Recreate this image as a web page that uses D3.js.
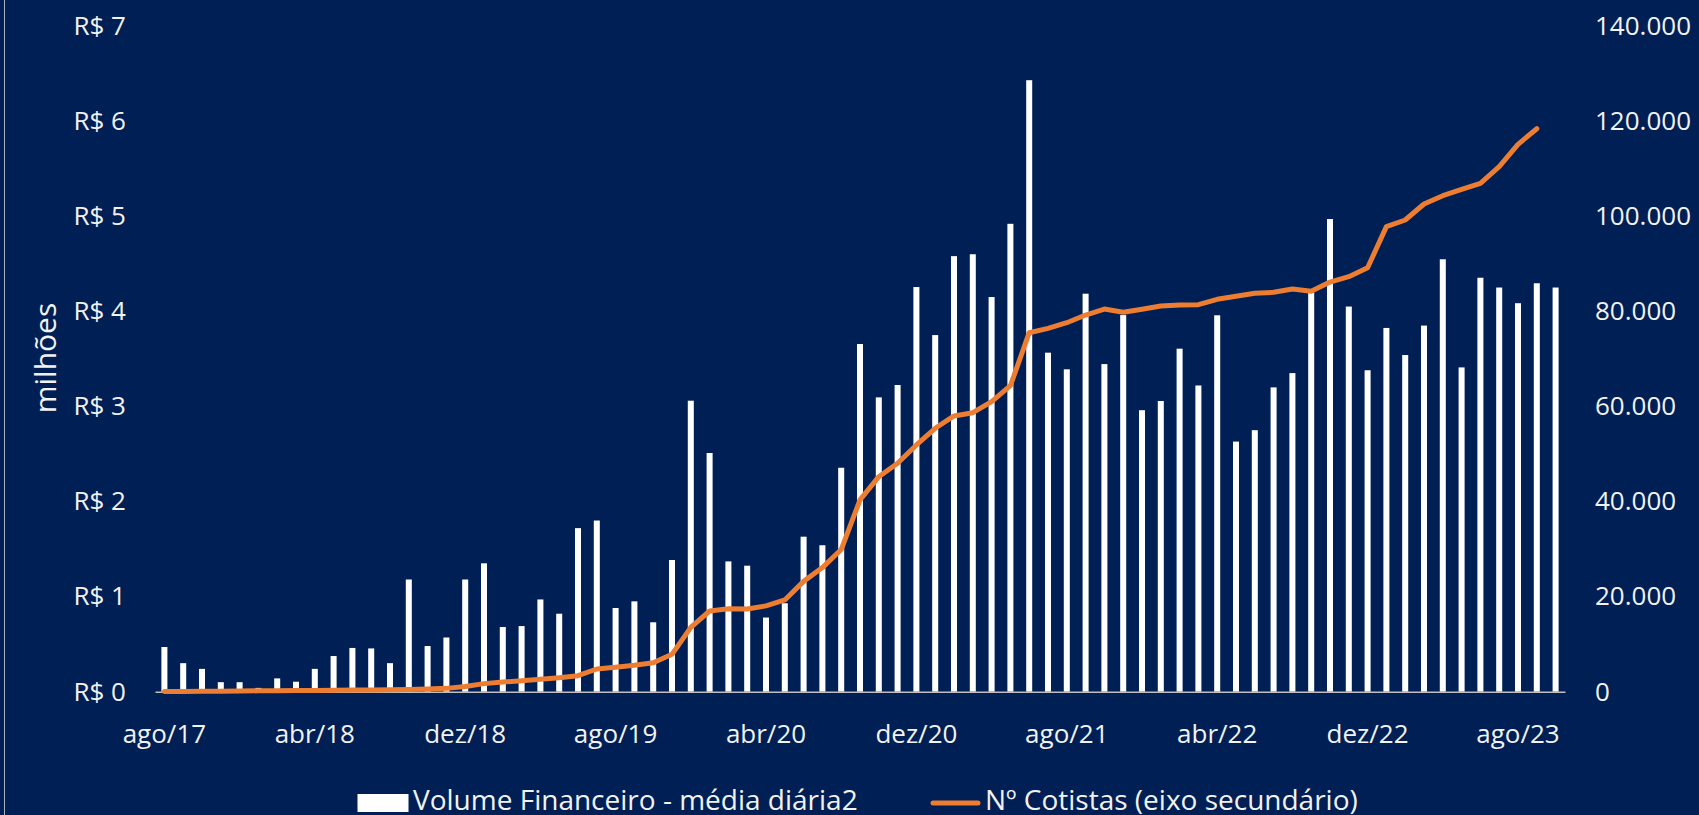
<!DOCTYPE html>
<html lang="pt-BR">
<head>
<meta charset="utf-8">
<title>Volume Financeiro x Nº Cotistas</title>
<script src="https://cdn.jsdelivr.net/npm/d3@7"></script>
<style>
    html, body { margin: 0; padding: 0; background: #001f54; }
    svg { display: block; font-family: "Open Sans", "Noto Sans", sans-serif; }
    .tick text { fill: #f2f2f2; }
</style>
</head>
<body>
<div id="chart"></div>
<script>
// Monthly categories (ago/17 .. out/23)
const categories = [
    'ago/17', 'set/17', 'out/17', 'nov/17', 'dez/17',
    'jan/18', 'fev/18', 'mar/18', 'abr/18', 'mai/18', 'jun/18', 'jul/18', 'ago/18', 'set/18', 'out/18', 'nov/18', 'dez/18',
    'jan/19', 'fev/19', 'mar/19', 'abr/19', 'mai/19', 'jun/19', 'jul/19', 'ago/19', 'set/19', 'out/19', 'nov/19', 'dez/19',
    'jan/20', 'fev/20', 'mar/20', 'abr/20', 'mai/20', 'jun/20', 'jul/20', 'ago/20', 'set/20', 'out/20', 'nov/20', 'dez/20',
    'jan/21', 'fev/21', 'mar/21', 'abr/21', 'mai/21', 'jun/21', 'jul/21', 'ago/21', 'set/21', 'out/21', 'nov/21', 'dez/21',
    'jan/22', 'fev/22', 'mar/22', 'abr/22', 'mai/22', 'jun/22', 'jul/22', 'ago/22', 'set/22', 'out/22', 'nov/22', 'dez/22',
    'jan/23', 'fev/23', 'mar/23', 'abr/23', 'mai/23', 'jun/23', 'jul/23', 'ago/23', 'set/23', 'out/23'
];

// Volume Financeiro - média diária (R$ milhões)
const volume = [
    0.47, 0.30, 0.24, 0.10, 0.10,
    0.04, 0.14, 0.105, 0.24, 0.375, 0.46, 0.455, 0.30, 1.18, 0.48, 0.57, 1.18,
    1.35, 0.68, 0.69, 0.97, 0.82, 1.72, 1.80, 0.88, 0.95, 0.73, 1.385, 3.06,
    2.51, 1.37, 1.325, 0.78, 0.93, 1.63, 1.54, 2.355, 3.656, 3.095, 3.225, 4.255,
    3.75, 4.58, 4.60, 4.15, 4.92, 6.43, 3.565, 3.39, 4.185, 3.445, 3.96, 2.96,
    3.057, 3.607, 3.22, 3.958, 2.63, 2.75, 3.20, 3.35, 4.20, 4.97, 4.05, 3.38,
    3.825, 3.54, 3.85, 4.547, 3.41, 4.353, 4.25, 4.085, 4.295, 4.25
];

// Nº Cotistas (eixo secundário) - ends at set/23
const cotistas = [
    30, 60, 90, 120, 150,
    180, 210, 240, 270, 300, 340, 380, 420, 470, 560, 700, 1100,
    1700, 2040, 2310, 2600, 2950, 3365, 4770, 5130, 5550, 6100, 7860, 13540,
    16970, 17460, 17380, 18050, 19300, 23200, 26100, 29900, 40330, 45220, 48040, 51890,
    55400, 57990, 58680, 60990, 64350, 75500, 76420, 77600, 79220, 80480, 79790, 80420,
    81110, 81320, 81390, 82520, 83150, 83780, 83990, 84680, 84200, 86150, 87280, 89150,
    97800, 99200, 102560, 104310, 105650, 106920, 110410, 115120, 118400
];

const leftTicks = [0, 1, 2, 3, 4, 5, 6, 7];
const rightTicks = [0, 20000, 40000, 60000, 80000, 100000, 120000, 140000];
const xTickLabels = ['ago/17', 'abr/18', 'dez/18', 'ago/19', 'abr/20', 'dez/20', 'ago/21', 'abr/22', 'dez/22', 'ago/23'];
const legendLabels = ['Volume Financeiro - média diária2', 'Nº Cotistas (eixo secundário)'];

const config = {
    width: 1699,
    height: 815,
    plotLeft: 155,
    plotRight: 1565,
    plotTop: 26,
    plotBottom: 691.7,
    background: '#001f54',
    barColor: '#ffffff',
    lineColor: '#ed7d31',
    textColor: '#f2f2f2',
    axisColor: '#bfbfbf',
    fontSize: 26,
    legendFontSize: 28
};

const ptBR = d3.formatLocale({ decimal: ',', thousands: '.', grouping: [3], currency: ['R$ ', ''] });
const fmtThousands = ptBR.format(',');

function renderChart(container) {
    const svg = d3.select(container).append('svg')
        .attr('width', config.width)
        .attr('height', config.height)
        .attr('viewBox', `0 0 ${config.width} ${config.height}`);

    svg.append('rect')
        .attr('width', config.width)
        .attr('height', config.height)
        .attr('fill', config.background);

    // thin frame line on the left edge
    svg.append('line')
        .attr('x1', 4.5).attr('x2', 4.5)
        .attr('y1', 0).attr('y2', config.height)
        .attr('stroke', '#a9b0c0').attr('stroke-width', 1);

    // Scales
    const x = d3.scaleBand()
        .domain(categories)
        .range([config.plotLeft, config.plotRight])
        .paddingInner(0.68)
        .paddingOuter(0.34);

    const yLeft = d3.scaleLinear().domain([0, 7]).range([config.plotBottom, config.plotTop]);
    const yRight = d3.scaleLinear().domain([0, 140000]).range([config.plotBottom, config.plotTop]);

    // Bars
    svg.append('g').attr('class', 'bars')
        .selectAll('rect')
        .data(volume)
        .join('rect')
        .attr('x', (d, i) => x(categories[i]))
        .attr('y', d => yLeft(d))
        .attr('width', x.bandwidth())
        .attr('height', d => config.plotBottom - yLeft(d))
        .attr('fill', config.barColor);

    // Left axis
    const leftAxis = svg.append('g')
        .attr('transform', `translate(${config.plotLeft},0)`)
        .call(d3.axisLeft(yLeft).tickValues(leftTicks).tickSize(0).tickPadding(29).tickFormat(d => 'R$ ' + d));
    leftAxis.select('.domain').remove();

    // Right axis
    const rightAxis = svg.append('g')
        .attr('transform', `translate(${config.plotRight},0)`)
        .call(d3.axisRight(yRight).tickValues(rightTicks).tickSize(0).tickPadding(30).tickFormat(fmtThousands));
    rightAxis.select('.domain').remove();

    // Bottom axis
    const bottomAxis = svg.append('g')
        .attr('transform', `translate(0,${config.plotBottom})`)
        .call(d3.axisBottom(x).tickValues(xTickLabels).tickSize(0).tickPadding(33));
    bottomAxis.select('.domain')
        .attr('stroke', config.axisColor)
        .attr('stroke-width', 1.5);

    svg.selectAll('.tick text')
        .attr('font-size', config.fontSize)
        .attr('font-family', '"Open Sans", sans-serif')
        .attr('fill', config.textColor);

    // Line (secondary axis)
    const line = d3.line()
        .x((d, i) => x(categories[i]) + x.bandwidth() / 2)
        .y(d => yRight(d));

    svg.append('path')
        .datum(cotistas)
        .attr('d', line)
        .attr('fill', 'none')
        .attr('stroke', config.lineColor)
        .attr('stroke-width', 5)
        .attr('stroke-linejoin', 'round')
        .attr('stroke-linecap', 'round');

    // Y axis title
    svg.append('text')
        .attr('transform', 'translate(44,358) rotate(-90)')
        .attr('text-anchor', 'middle')
        .attr('dominant-baseline', 'central')
        .attr('font-size', 30)
        .attr('fill', config.textColor)
        .text('milhões');

    // Legend (sits on the bottom edge, as in the source)
    const legend = svg.append('g').attr('class', 'legend');
    legend.append('rect')
        .attr('x', 357.5).attr('y', 794)
        .attr('width', 51).attr('height', 18)
        .attr('fill', config.barColor);
    legend.append('text')
        .attr('x', 413).attr('y', 810)
        .attr('font-size', config.legendFontSize)
        .attr('fill', config.textColor)
        .text(legendLabels[0]);
    legend.append('line')
        .attr('x1', 933).attr('x2', 978)
        .attr('y1', 803).attr('y2', 803)
        .attr('stroke', config.lineColor)
        .attr('stroke-width', 5)
        .attr('stroke-linecap', 'round');
    legend.append('text')
        .attr('x', 985).attr('y', 810)
        .attr('font-size', config.legendFontSize)
        .attr('fill', config.textColor)
        .text(legendLabels[1]);
}

renderChart(document.getElementById('chart'));
</script>
</body>
</html>
